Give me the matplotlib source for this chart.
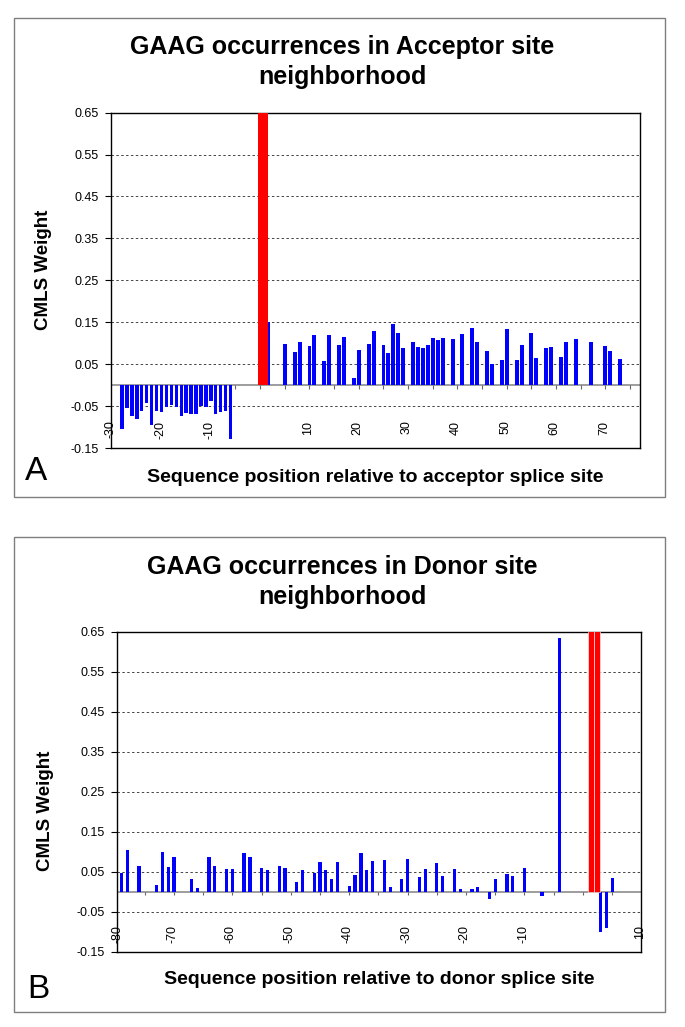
import numpy as np
import matplotlib
matplotlib.use('Agg')
import matplotlib.pyplot as plt
from matplotlib.patches import Rectangle

plt.rcParams['font.family'] = ['Liberation Sans', 'DejaVu Sans']

# ---- panel A: acceptor site ----
a_neg_pos = list(range(-28, -5))
a_neg_val = [-0.103, -0.055, -0.072, -0.081, -0.060, -0.041, -0.095, -0.060,
             -0.064, -0.051, -0.047, -0.051, -0.072, -0.065, -0.068, -0.068,
             -0.049, -0.052, -0.037, -0.069, -0.064, -0.061, -0.127]
a_pos_pos = [2, 5, 7, 8, 10, 11, 13, 14, 16, 17, 19, 20, 22, 23, 25, 26, 27, 28,
             29, 31, 32, 33, 34, 35, 36, 37, 39, 41, 43, 44, 46, 47, 49, 50,
             52, 53, 55, 56, 58, 59, 61, 62, 64, 67, 70, 71, 73]
a_pos_val = [0.151, 0.099, 0.079, 0.103, 0.093, 0.119, 0.059, 0.121, 0.096,
             0.116, 0.017, 0.085, 0.099, 0.129, 0.096, 0.076, 0.145, 0.124,
             0.090, 0.104, 0.091, 0.088, 0.096, 0.113, 0.108, 0.113, 0.111,
             0.122, 0.137, 0.103, 0.082, 0.052, 0.060, 0.134, 0.060, 0.096,
             0.125, 0.065, 0.088, 0.091, 0.068, 0.104, 0.111, 0.104, 0.094,
             0.083, 0.062]
a_red_pos = [0, 1]
a_red_val = [0.9, 0.9]
a_labels = [-30, -20, -10, 10, 20, 30, 40, 50, 60, 70]

# ---- panel B: donor site ----
b_blue_pos = [-79, -78, -76, -73, -72, -71, -70, -67, -66, -64, -63, -61, -60,
              -58, -57, -55, -54, -52, -51, -49, -48, -46, -45, -44, -43, -42,
              -40, -39, -38, -37, -36, -34, -33, -31, -30, -28, -27, -25, -24,
              -22, -21, -19, -18, -16, -15, -13, -12, -10, -7, -4, 3, 4, 5]
b_blue_val = [0.046, 0.104, 0.065, 0.018, 0.100, 0.062, 0.086, 0.033, 0.010,
              0.088, 0.065, 0.056, 0.056, 0.097, 0.088, 0.060, 0.054, 0.065,
              0.059, 0.025, 0.054, 0.047, 0.074, 0.054, 0.033, 0.074, 0.015,
              0.042, 0.097, 0.054, 0.077, 0.079, 0.013, 0.031, 0.082, 0.036,
              0.056, 0.072, 0.040, 0.057, 0.007, 0.008, 0.012, -0.017, 0.032,
              0.045, 0.040, 0.060, -0.010, 0.635, -0.100, -0.090, 0.035]
b_red_pos = [1, 2]
b_red_val = [0.9, 0.9]
b_labels = [-80, -70, -60, -50, -40, -30, -20, -10, 10]

yticks = [0.65, 0.55, 0.45, 0.35, 0.25, 0.15, 0.05, -0.05, -0.15]

BLUE = '#0000ff'
RED = '#ff0000'

fig = plt.figure(figsize=(6.85, 10.27), dpi=100)


def setup(ax, xlim, ticks, labels, lab_shift):
    ax.set_xlim(*xlim)
    ax.set_ylim(-0.15, 0.65)
    ax.set_yticks(yticks)
    ax.set_yticklabels(['%.2f' % t for t in yticks], fontsize=9)
    ax.tick_params(axis='y', direction='out', length=4.5, width=0.8, pad=4)
    ax.set_xticks([])
    for s in ax.spines.values():
        s.set_linewidth(1.0)
        s.set_color('black')
    for t in yticks[1:-1]:
        ax.axhline(t, color='#444444', lw=0.7, ls=(0, (2.5, 2.5)), zorder=0)
    ax.axhline(0, color='#8c8c8c', lw=1.2, zorder=1)
    ax.vlines(ticks, -0.008, 0, color='#666666', lw=0.8, zorder=1)
    for lab in labels:
        x = max(lab + lab_shift, xlim[0] + 0.05)
        ax.text(x, -0.084, str(lab), rotation=90, ha='center', va='top',
                fontsize=9)


# panel A
axA = fig.add_axes([0.1616, 0.5635, 0.7727, 0.3269])
setup(axA, (-30.3, 77.0), np.arange(-25, 80, 5), a_labels, -0.3)
axA.bar(a_neg_pos, a_neg_val, width=0.7, color=BLUE, zorder=2)
a_pos_pos = np.array(a_pos_pos)
axA.bar(a_pos_pos + np.where(a_pos_pos == 2, -0.15, 0), a_pos_val,
        width=np.where(a_pos_pos == 2, 0.4, 0.8), color=BLUE, zorder=2)
axA.bar(np.array(a_red_pos) + 0.03, a_red_val, width=1.12, color=RED, zorder=3)

# panel B
axB = fig.add_axes([0.1704, 0.0733, 0.7650, 0.3116])
setup(axB, (-79.8, 9.9), np.arange(-75, 10, 5), b_labels, -0.25)
axB.bar(b_blue_pos, b_blue_val, width=0.55, color=BLUE, zorder=2)
axB.bar(np.array(b_red_pos) + 0.4, b_red_val, width=1.0, color=RED,
        edgecolor='white', linewidth=0.4, zorder=3)

# titles and labels
fig.text(0.5, 1 - 62 / 1027, 'GAAG occurrences in Acceptor site\nneighborhood',
         ha='center', va='center', fontsize=18, fontweight='bold', linespacing=1.3)
fig.text(0.5, 1 - 582 / 1027, 'GAAG occurrences in Donor site\nneighborhood',
         ha='center', va='center', fontsize=18, fontweight='bold', linespacing=1.3)

fig.text(44 / 685, 1 - 270 / 1027, 'CMLS Weight', rotation=90, ha='center',
         va='center', fontsize=13.5, fontweight='bold')
fig.text(45 / 685, 1 - 811 / 1027, 'CMLS Weight', rotation=90, ha='center',
         va='center', fontsize=13.5, fontweight='bold')

fig.text(375 / 685, 1 - 477 / 1027,
         'Sequence position relative to acceptor splice site',
         ha='center', va='center', fontsize=14, fontweight='bold')
fig.text(379 / 685, 1 - 980 / 1027,
         'Sequence position relative to donor splice site',
         ha='center', va='center', fontsize=14, fontweight='bold')

fig.text(25 / 685, 1 - 480 / 1027, 'A', fontsize=24, ha='left', va='baseline')
fig.text(27 / 685, 1 - 998 / 1027, 'B', fontsize=24, ha='left', va='baseline')

# panel frames
for y0, y1 in [(18, 497), (537, 1012)]:
    fig.patches.append(Rectangle((14 / 685, 1 - y1 / 1027), 651 / 685,
                                 (y1 - y0) / 1027, transform=fig.transFigure,
                                 fill=False, edgecolor='#7f7f7f', lw=1.0))

fig.savefig('out.png', dpi=100)
